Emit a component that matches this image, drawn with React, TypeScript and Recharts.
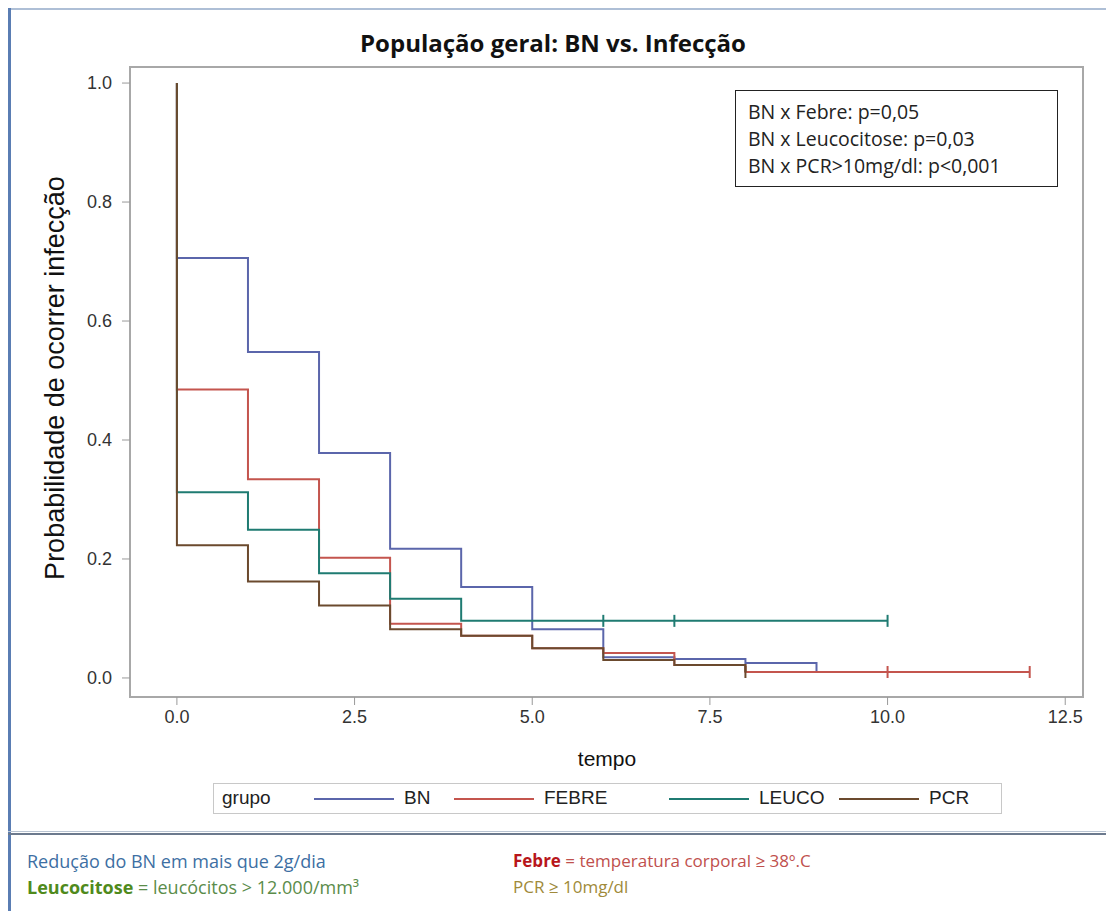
import React from "react"
import {
  LineChart,
  Line,
  XAxis,
  YAxis,
  ReferenceArea,
} from "recharts"

// Kaplan-Meier style step curves
const bnTime = [0, 0, 1, 2, 3, 4, 5, 6, 7, 8, 9]
const bnProb = [1, 0.706, 0.548, 0.378, 0.217, 0.153, 0.082, 0.035, 0.032, 0.025, 0.01]
const bnCensor: number[] = []

const febreTime = [0, 0, 1, 2, 3, 4, 5, 6, 7, 8, 10, 12]
const febreProb = [1, 0.485, 0.334, 0.202, 0.091, 0.071, 0.05, 0.042, 0.022, 0.01, 0.01, 0.01]
const febreCensor = [10, 12]

const leucoTime = [0, 0, 1, 2, 3, 4, 6, 7, 10]
const leucoProb = [1, 0.312, 0.249, 0.176, 0.133, 0.096, 0.096, 0.096, 0.096]
const leucoCensor = [6, 7, 10]

const pcrTime = [0, 0, 1, 2, 3, 4, 5, 6, 7, 8]
const pcrProb = [1, 0.223, 0.162, 0.122, 0.082, 0.071, 0.05, 0.03, 0.022, 0.01]
const pcrCensor = [8]

const xTicks = [0, 2.5, 5, 7.5, 10, 12.5]
const yTicks = [0, 0.2, 0.4, 0.6, 0.8, 1.0]
const xDomain: [number, number] = [-0.66, 12.75]
const yDomain: [number, number] = [-0.032, 1.027]

const pValues = [
  "BN x Febre: p=0,05",
  "BN x Leucocitose: p=0,03",
  "BN x PCR>10mg/dl: p<0,001",
]

const build = (t: number[], p: number[], censor: number[]) =>
  t.map((time, i) => ({
    tempo: time,
    prob: p[i],
    censored: i > 1 && censor.includes(time),
  }))

const series = [
  { name: "BN", color: "#5b66ab", data: build(bnTime, bnProb, bnCensor) },
  { name: "FEBRE", color: "#c4554e", data: build(febreTime, febreProb, febreCensor) },
  { name: "LEUCO", color: "#1f7b72", data: build(leucoTime, leucoProb, leucoCensor) },
  { name: "PCR", color: "#6b4a2e", data: build(pcrTime, pcrProb, pcrCensor) },
]

const censorDot = (color: string) => (props: any) => {
  const { cx, cy, payload, index } = props
  if (!payload || !payload.censored) return <g key={index} />
  return (
    <line
      key={index}
      x1={cx}
      x2={cx}
      y1={cy - 6}
      y2={cy + 6}
      stroke={color}
      strokeWidth={2}
    />
  )
}

const XTick = (props: any) => {
  const { x, y, payload } = props
  return (
    <text
      x={x}
      y={y + 14}
      textAnchor="middle"
      fontFamily="Liberation Sans, Arial"
      fontSize={18}
      fill="#333"
    >
      {Number(payload.value).toFixed(1)}
    </text>
  )
}

const YTick = (props: any) => {
  const { x, y, payload } = props
  return (
    <text
      x={x}
      y={y + 6}
      textAnchor="end"
      fontFamily="Liberation Sans, Arial"
      fontSize={18}
      fill="#333"
    >
      {Number(payload.value).toFixed(1)}
    </text>
  )
}

const calibri = "'Open Sans', Lato, sans-serif"

export default function App() {
  return (
    <div
      style={{
        position: "absolute",
        left: 0,
        top: 0,
        width: 1106,
        height: 911,
        overflow: "hidden",
        background: "#fff",
      }}
    >
      {/* slide borders */}
      <div style={{ position: "absolute", left: 8, top: 8, width: 1098, height: 2, background: "#aebfd6" }} />
      <div style={{ position: "absolute", left: 8, top: 8, width: 3, height: 903, background: "#5a7db3" }} />
      <div style={{ position: "absolute", left: 8, top: 831, width: 1098, height: 1, background: "#b9c4d2" }} />
      <div style={{ position: "absolute", left: 8, top: 833, width: 1098, height: 2, background: "#6c7a8e" }} />

      <div
        style={{
          position: "absolute",
          left: 0,
          width: 1106,
          top: 26,
          textAlign: "center",
          fontFamily: calibri,
          fontWeight: 700,
          fontSize: 24,
          color: "#111",
        }}
      >
        População geral: BN vs. Infecção
      </div>

      <div style={{ position: "absolute", left: 0, top: 0 }}>
        <LineChart
          width={1106}
          height={760}
          margin={{ top: 67, right: 23, left: 0, bottom: 0 }}
        >
          <XAxis
            dataKey="tempo"
            type="number"
            domain={xDomain}
            ticks={xTicks}
            allowDataOverflow
            height={63}
            axisLine={false}
            tickLine={{ stroke: "#999" }}
            tickSize={8}
            tickMargin={4}
            tick={<XTick />}
          />
          <YAxis
            dataKey="prob"
            type="number"
            domain={yDomain}
            ticks={yTicks}
            allowDataOverflow
            width={130}
            axisLine={false}
            tickLine={{ stroke: "#999" }}
            tickSize={8}
            tickMargin={10}
            tick={<YTick />}
          />
          <ReferenceArea
            x1={xDomain[0]}
            x2={xDomain[1]}
            y1={yDomain[0]}
            y2={yDomain[1]}
            fill="none"
            stroke="#a8a8a8"
            strokeWidth={2}
          />
          {series.map((s) => (
            <Line
              key={s.name}
              data={s.data}
              dataKey="prob"
              name={s.name}
              type="stepAfter"
              stroke={s.color}
              strokeWidth={2}
              dot={censorDot(s.color)}
              activeDot={false}
              isAnimationActive={false}
            />
          ))}
        </LineChart>
      </div>

      <div
        style={{
          position: "absolute",
          left: 55,
          top: 378,
          transform: "translate(-50%, -50%) rotate(-90deg)",
          whiteSpace: "nowrap",
          fontFamily: "Liberation Sans, Arial",
          fontSize: 27,
          color: "#111",
        }}
      >
        Probabilidade de ocorrer infecção
      </div>

      <div
        style={{
          position: "absolute",
          left: 607,
          top: 747,
          transform: "translateX(-50%)",
          fontFamily: "Liberation Sans, Arial",
          fontSize: 21,
          color: "#111",
        }}
      >
        tempo
      </div>

      {/* p-value box */}
      <div
        style={{
          position: "absolute",
          left: 735,
          top: 90,
          width: 323,
          height: 97,
          border: "1.5px solid #222",
          boxSizing: "border-box",
          padding: "7px 0 0 12px",
          fontFamily: calibri,
          fontSize: 19.5,
          lineHeight: "27px",
          color: "#222",
          whiteSpace: "nowrap",
        }}
      >
        {pValues.map((t) => (
          <div key={t}>{t}</div>
        ))}
      </div>

      {/* legend */}
      <div
        style={{
          position: "absolute",
          left: 213,
          top: 783,
          width: 789,
          height: 31,
          border: "1px solid #c8c8c8",
          boxSizing: "border-box",
          fontFamily: "Liberation Sans, Arial",
          fontSize: 19,
          color: "#222",
        }}
      >
        <span style={{ position: "absolute", left: 8, top: 3 }}>grupo</span>
        {series.map((s, i) => {
          const lineLeft = [100, 240, 455, 625][i]
          return (
            <React.Fragment key={s.name}>
              <div
                style={{
                  position: "absolute",
                  left: lineLeft,
                  top: 14,
                  width: 80,
                  height: 2,
                  background: s.color,
                }}
              />
              <span style={{ position: "absolute", left: lineLeft + 90, top: 3 }}>{s.name}</span>
            </React.Fragment>
          )
        })}
      </div>

      {/* footnotes */}
      <div style={{ position: "absolute", left: 27, top: 849, fontFamily: calibri, fontSize: 18, color: "#3d6fa3" }}>
        Redução do BN em mais que 2g/dia
      </div>
      <div style={{ position: "absolute", left: 27, top: 875, fontFamily: calibri, fontSize: 18, color: "#5a8c4a" }}>
        <b style={{ color: "#4f8a1c" }}>Leucocitose</b> = leucócitos &gt; 12.000/mm³
      </div>
      <div style={{ position: "absolute", left: 513, top: 849, fontFamily: calibri, fontSize: 17, color: "#c0504d" }}>
        <b style={{ color: "#b8161b" }}>Febre</b> = temperatura corporal ≥ 38º.C
      </div>
      <div style={{ position: "absolute", left: 513, top: 875, fontFamily: calibri, fontSize: 17, color: "#a08a3a" }}>
        PCR ≥ 10mg/dl
      </div>
    </div>
  )
}
